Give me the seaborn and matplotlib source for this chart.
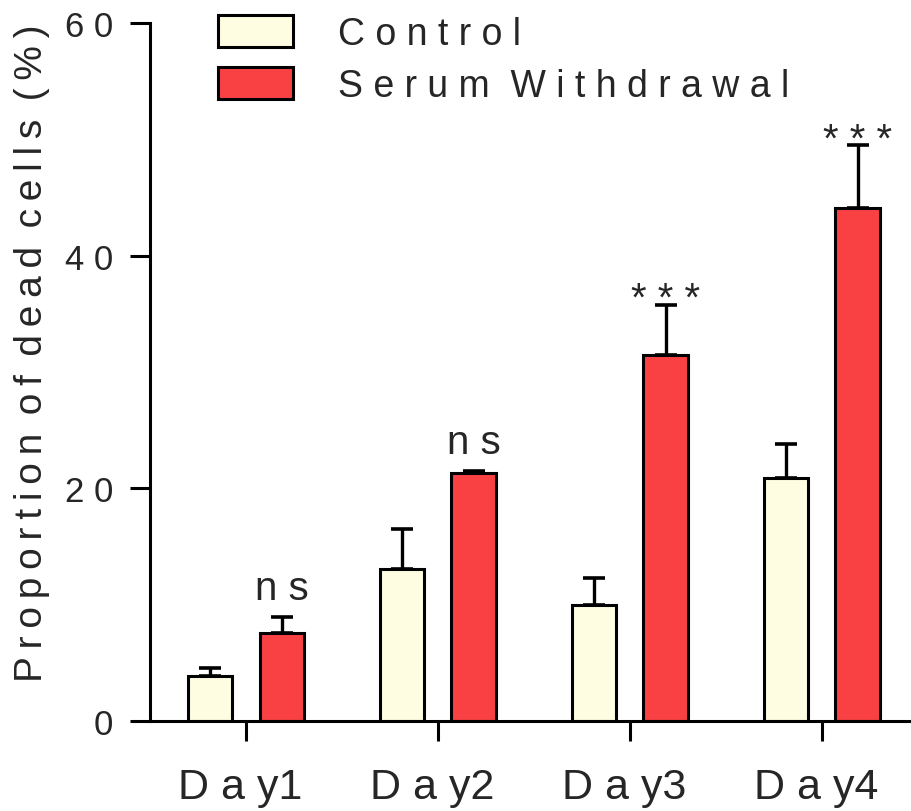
import matplotlib
matplotlib.use("Agg")
import matplotlib.pyplot as plt
import seaborn as sns
import pandas as pd

# ---- data ----
days = ["Day1", "Day2", "Day3", "Day4"]
day_labels = ["D a y1 ", "D a y2 ", "D a y3 ", "D a y4 "]
groups = ["Control", "Serum Withdrawal"]
legend_labels = ["C o n t r o l", "S e r u m  W i t h d r a w a l"]
control_mean = [3.9, 13.1, 10.0, 20.9]
control_err = [0.65, 3.4, 2.3, 2.9]
serum_mean = [7.55, 21.3, 31.5, 44.1]
serum_err = [1.4, 0.2, 4.3, 5.4]
sig_labels = ["n s", "n s", "* * *", "* * *"]
y_ticks = [0, 20, 40, 60]
y_tick_labels = ["0", "2 0", "4 0", "6 0"]
ylabel = "Proportion of dead cells (%)"
colors = ["#FFFDE1", "#F94144"]

sns.set_style("ticks")
plt.rcParams["font.family"] = ["Liberation Sans", "DejaVu Sans"]

df = pd.DataFrame({
    "day": days * 2,
    "group": [groups[0]] * 4 + [groups[1]] * 4,
    "value": control_mean + serum_mean,
})

fig = plt.figure(figsize=(9.12, 8.12), dpi=100)
ax = fig.add_axes([150 / 912, 90 / 812, 762 / 912, 698 / 812])

sns.barplot(data=df, x="day", y="value", hue="group", order=days,
            hue_order=groups, palette=colors, width=0.745, gap=0.38,
            errorbar=None, edgecolor="black", linewidth=2.2, saturation=1,
            ax=ax)

errs = [control_err, serum_err]
for cont, err in zip(ax.containers, errs):
    xs = [p.get_x() + p.get_width() / 2 for p in cont]
    ys = [p.get_height() for p in cont]
    ax.errorbar(xs, ys, yerr=[[0] * len(err), err], fmt="none",
                ecolor="black", elinewidth=2.4, capsize=7.9, capthick=2.6,
                zorder=1)

# significance labels above serum bars
serum_cont = ax.containers[1]
for p, e, lab in zip(serum_cont, serum_err, sig_labels):
    x = p.get_x() + p.get_width() / 2
    top = p.get_height() + e
    off = -4 if lab.startswith("*") else 13
    ax.annotate(lab, (x, top), xytext=(0, off), textcoords="offset points",
                ha="center", va="baseline", fontsize=29)

ax.set_ylim(0, 60)
ax.set_xlim(-0.5, 3.47)
ax.set_yticks(y_ticks)
ax.set_yticklabels(y_tick_labels, fontsize=25)
ax.set_xticks(range(len(days)))
ax.set_xticklabels(day_labels, fontsize=31)
ax.set_xlabel("")
spaced_label = "\u2009 ".join("\u2009".join(w) for w in ylabel.split(" "))
ax.set_ylabel(spaced_label, fontsize=28)
ax.yaxis.set_label_coords(-0.131, 0.529)
ax.tick_params(axis="both", length=14.4, width=2.2, color="black")
ax.tick_params(axis="y", pad=12)
ax.tick_params(axis="x", pad=19)
for s in ["left", "bottom"]:
    ax.spines[s].set_linewidth(2.2)
    ax.spines[s].set_color("black")
sns.despine(ax=ax)

handles, _ = ax.get_legend_handles_labels()
ax.legend(handles, legend_labels, loc="upper left",
          bbox_to_anchor=(218 / 912, 1 - 16 / 812), bbox_transform=fig.transFigure,
          frameon=False, fontsize=27, handlelength=2.0, handleheight=0.93,
          handletextpad=1.2, labelspacing=0.4, borderpad=0, borderaxespad=0)

fig.savefig("out.png", dpi=100)
